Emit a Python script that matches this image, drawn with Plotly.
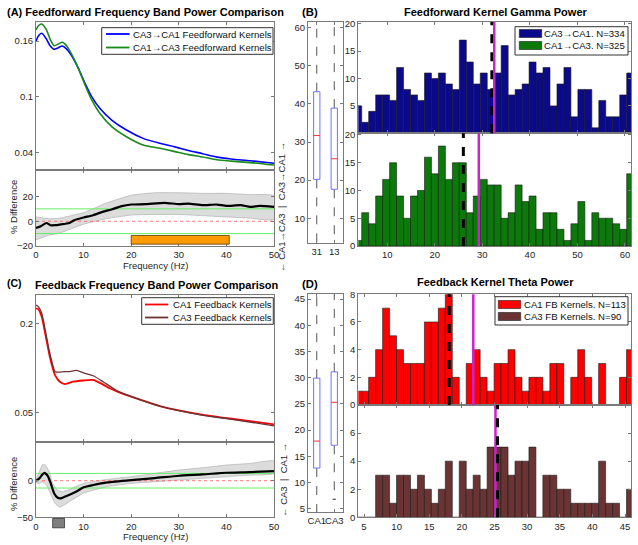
import plotly.graph_objects as go

W, H = 638, 545

# ---------------- DATA ----------------
# Panel A (top): power spectra
fA = [0, 0.5, 1.2, 2.2, 3, 3.8, 4.6, 5.5, 6.4, 7.5, 8.9, 10.3, 11.7, 13.4, 15.9, 19, 22.5, 26, 29, 32, 35, 38, 41, 45, 50]
ca3_ca1_ff = [0.160, 0.1655, 0.1683, 0.162, 0.1545, 0.151, 0.1525, 0.1546, 0.1515, 0.144, 0.1305, 0.1144, 0.100, 0.0874,
              0.0748, 0.064, 0.055, 0.0497, 0.0461, 0.0420, 0.0385, 0.0348, 0.0328, 0.0309, 0.0281]
ca1_ca3_ff = [0.1719, 0.1765, 0.1783, 0.172, 0.1615, 0.155, 0.1565, 0.1586, 0.155, 0.1455, 0.1305, 0.1126, 0.0964, 0.082,
              0.0676, 0.0568, 0.0479, 0.0443, 0.041, 0.0375, 0.0350, 0.0320, 0.0305, 0.0289, 0.0263]
A_names = ["CA3→CA1 Feedforward Kernels", "CA1→CA3 Feedforward Kernels"]

# Panel A (bottom): % difference
fA_diff = [0, 1, 2.2, 3, 4, 5, 7, 8, 10, 12, 14, 16, 18, 20, 23, 27, 30, 32, 35, 38, 40, 43, 45, 47, 50]
A_diff_mean = [-5.4, -4, -1.4, -3.2, -3.2, -2.7, -1.4, 0.8, 3, 4.9, 7.6, 9.7, 12.2, 13.5, 13.8, 14.9, 13.8, 14.3, 13,
               13.5, 12.4, 13, 11.6, 12.4, 11.6]
fA_band = [0, 3, 5, 10, 15, 20, 25, 30, 35, 40, 45, 50]
A_band_upper = [3.5, 2, 2.5, 7, 15, 21, 23, 23, 22.5, 22.5, 21.5, 20.5]
A_band_lower = [-15, -11, -9.5, -2.4, 2.2, 5, 5.5, 5.5, 4.5, 3.5, 2.5, 1.5]
A_sig_band = [20, 40.6]
thresholds = [-10, 10]

# Panel B: gamma power histograms
B_bin_start, B_bin_width = 3.886, 1.467
B_counts_ca3_ca1 = [5, 2, 4, 7, 7, 6, 12, 8, 7, 6, 11, 10, 11, 9, 8, 17, 13, 9, 11, 8,
                    11, 16, 7, 8, 9, 13, 11, 12, 5, 9, 12, 3, 8, 8, 1, 6, 3, 3, 7, 11]
B_counts_ca1_ca3 = [1, 6, 4, 9, 12, 15, 9, 5, 9, 10, 16, 13, 18, 12, 15, 15, 6, 9, 12, 11,
                    11, 5, 6, 11, 8, 9, 3, 6, 6, 3, 1, 4, 8, 1, 6, 5, 5, 4, 3, 13]
B_names = ["CA3→CA1. N=334", "CA1→CA3. N=325"]
B_median = [32.0, 26.0]
B_mean = [32.5, 29.25]
B_box_labels = ["31", "13"]
B_q1 = [20.2, 17.6]
B_med = [31.7, 25.6]
B_q3 = [43.2, 38.9]
B_lo = [3.1, 3.1]
B_hi = [62.0, 62.0]

# Panel C: feedback spectra
fC_ca1 = [0, 0.5, 1.2, 2.2, 2.9, 4, 5, 6.1, 7.8, 9.9, 12, 13.4, 15.5, 17.6, 21.1, 26, 34.5, 41.5, 50]
ca1_fb = [0.225, 0.2235, 0.211, 0.172, 0.144, 0.113, 0.102, 0.098, 0.102, 0.104, 0.105, 0.100, 0.091, 0.0836, 0.074,
          0.0612, 0.0473, 0.0394, 0.0305]
fC_ca3 = [0, 0.5, 1.2, 2.2, 2.9, 4, 4.4, 6.1, 7.1, 8.5, 10.3, 12, 14.1, 16.9, 21.1, 26, 34.5, 41.5, 50]
ca3_fb = [0.2308, 0.228, 0.217, 0.178, 0.150, 0.119, 0.118, 0.119, 0.119, 0.121, 0.116, 0.112, 0.102, 0.0875, 0.074,
          0.061, 0.0465, 0.0385, 0.028]
C_names = ["CA1 Feedback Kernels", "CA3 Feedback Kernels"]

fC_diff = [0, 0.7, 1.4, 1.8, 2.5, 3.1, 3.8, 4.5, 5.2, 6, 7.3, 8.7, 10, 12, 15, 20, 25, 30, 35, 40, 45, 50]
C_diff_mean = [0, 3.2, 9, 10.9, 6.4, -3.6, -17, -23, -24, -22, -18.6, -14, -9, -5.9, -2.3, 0.9, 3.6, 6.8, 8.6, 10.9,
               11.8, 13.2]
fC_up = [0, 0.7, 1.4, 2, 2.8, 3.5, 4.5, 5.5, 7, 10, 15, 20, 25, 30, 35, 40, 45, 50]
C_band_upper = [2.3, 12, 22, 21, 12, -3.6, -12.7, -15, -12, -3.6, 1.8, 5.5, 10, 14.5, 17.7, 21.4, 23.6, 26.8]
fC_lo = [0, 0.7, 1.4, 2.2, 3, 4, 5, 6, 7, 10, 15, 20, 25, 30, 35, 40, 45, 50]
C_band_lower = [-2.7, -3.6, -1.4, -6, -17, -31, -36, -33, -28.6, -17, -8, -3.6, -1.4, 0.9, 3.2, 5.5, 7.7, 10]
C_sig_band = [3.5, 6.0]

# Panel D: theta power histograms
D_bin_start, D_bin_width = 4.113, 1.068
D_counts_ca1 = [1, 1, 2, 4, 7, 5, 4, 3, 3, 3, 6, 6, 7, 8, 2, 0, 3, 4, 2, 1,
                3, 3, 4, 2, 1, 2, 2, 1, 3, 3, 0, 2, 4, 2, 0, 3, 0, 0, 2, 4]
D_counts_ca3 = [0, 0, 0, 3, 3, 1, 3, 3, 2, 3, 2, 1, 2, 4, 0, 4, 2, 3, 2, 5,
                5, 5, 3, 4, 4, 5, 0, 3, 3, 2, 2, 1, 1, 1, 1, 4, 1, 1, 0, 2]
D_names = ["CA1 FB Kernels. N=113", "CA3 FB Kernels. N=90"]
D_median = [18.06, 25.46]
D_mean = [21.75, 25.15]
D_box_labels = ["CA1", "CA3"]
D_q1 = [12.75, 17.1]
D_med = [17.9, 25.3]
D_q3 = [29.9, 31.1]
D_lo = [4.0, 6.8]
D_hi = [46.5, 46.5]

# ---------------- STYLE ----------------
FONT = "Liberation Sans, Arial, Helvetica, sans-serif"
AXC = "#7a7a7a"
TXT = "#262626"
BLUE, GREEN = "#0000ff", "#1a8a1a"
NAVY, DGREEN = "#0a0a8a", "#0b7a0b"
RED, BROWN = "#ff0000", "#6a3434"
MAGENTA = "#cc22cc"


def px(x):
    return x / W


def py(y):
    return 1 - y / H


fig = go.Figure()
layout = dict(template="none", width=W, height=H, margin=dict(l=0, r=0, t=0, b=0, autoexpand=False),
              plot_bgcolor="white", paper_bgcolor="white",
              font=dict(family=FONT, size=10, color=TXT), showlegend=False, shapes=[], annotations=[])

# axis boxes in pixels: (x0, x1, y0top, y1bottom)
boxes = {
    1: (36, 274, 22, 170),
    2: (36, 274, 170, 246),
    3: (308, 343, 22, 243),
    4: (358.3, 631, 22, 133.3),
    5: (358.3, 631, 133.3, 246),
    6: (36, 274, 295, 442.3),
    7: (36, 274, 442.3, 517.3),
    8: (308, 343, 294.3, 512),
    9: (358.3, 631, 294.3, 405),
    10: (358.3, 631, 405, 517.3),
}


def ax_common():
    return dict(showline=True, linecolor=AXC, linewidth=1, mirror="ticks", ticks="inside", ticklen=3,
                tickcolor=AXC, showgrid=False, zeroline=False, automargin=False, tickangle=0,
                tickfont=dict(size=9.5, color=TXT, family=FONT))


for i, (x0, x1, y0, y1) in boxes.items():
    s = "" if i == 1 else str(i)
    xa = ax_common()
    ya = ax_common()
    xa.update(domain=[px(x0), px(x1)], anchor="y" + s)
    ya.update(domain=[py(y1), py(y0)], anchor="x" + s)
    layout["xaxis" + s] = xa
    layout["yaxis" + s] = ya

# ranges / ticks
freq_ticks = [0, 10, 20, 30, 40, 50]
layout["xaxis"].update(range=[0, 50], tickvals=freq_ticks, showticklabels=False)
layout["yaxis"].update(range=[0.0209, 0.1805], tickvals=[0.04, 0.1, 0.16], ticktext=["0.04", "0.1", "0.16"])
layout["xaxis2"].update(range=[0, 50], tickvals=freq_ticks)
layout["yaxis2"].update(range=[-20, 41.4], tickvals=[-20, 0, 20])
layout["xaxis3"].update(range=[0.5, 2.5], tickvals=[1, 2], ticktext=B_box_labels)
layout["yaxis3"].update(range=[3.5, 61.5], tickvals=[10, 20, 30, 40, 50, 60])
layout["xaxis4"].update(range=[3.9, 61.27], tickvals=[10, 20, 30, 40, 50, 60], showticklabels=False)
layout["yaxis4"].update(range=[0, 20.3], tickvals=[5, 10, 15, 20])
layout["xaxis5"].update(range=[3.9, 61.27], tickvals=[10, 20, 30, 40, 50, 60])
layout["yaxis5"].update(range=[0, 20.3], tickvals=[0, 5, 10, 15, 20])
layout["xaxis6"].update(range=[0, 50], tickvals=freq_ticks, showticklabels=False)
layout["yaxis6"].update(range=[0.0003, 0.2475], tickvals=[0.05, 0.2], ticktext=["0.05", "0.2"])
layout["xaxis7"].update(range=[0, 50], tickvals=freq_ticks)
layout["yaxis7"].update(range=[-50, 52.5], tickvals=[-50, 0])
layout["xaxis8"].update(range=[0.5, 2.5], tickvals=[1, 2], ticktext=D_box_labels)
layout["yaxis8"].update(range=[4.37, 45.9], tickvals=[5, 10, 15, 20, 25, 30, 35, 40, 45])
layout["xaxis9"].update(range=[4.126, 45.92], tickvals=[5, 10, 15, 20, 25, 30, 35, 40, 45], showticklabels=False)
layout["yaxis9"].update(range=[0, 8], tickvals=[0, 2, 4, 6, 8])
layout["xaxis10"].update(range=[4.126, 45.92], tickvals=[5, 10, 15, 20, 25, 30, 35, 40, 45])
layout["yaxis10"].update(range=[0, 8], tickvals=[0, 2, 4, 6])


def ax(i):
    s = "" if i == 1 else str(i)
    return dict(xaxis="x" + s, yaxis="y" + s)


# ---- Panel A top
fig.add_trace(go.Scatter(x=fA, y=ca3_ca1_ff, mode="lines", line=dict(color=BLUE, width=1.6, shape="spline", smoothing=0.6),
                         name=A_names[0], **ax(1)))
fig.add_trace(go.Scatter(x=fA, y=ca1_ca3_ff, mode="lines", line=dict(color=GREEN, width=1.6, shape="spline", smoothing=0.6),
                         name=A_names[1], **ax(1)))


def diff_panel(i, f_up, up, f_lo, lo, f_m, m):
    bx = list(f_up) + list(f_lo)[::-1]
    by = list(up) + list(lo)[::-1]
    fig.add_trace(go.Scatter(x=bx, y=by, mode="lines", fill="toself", fillcolor="#dcdcdc",
                             line=dict(color="#b8b8b8", width=0.8, shape="spline", smoothing=0.5),
                             hoverinfo="skip", **ax(i)))
    for t in thresholds:
        fig.add_trace(go.Scatter(x=[0, 50], y=[t, t], mode="lines", line=dict(color="#66ee66", width=1), **ax(i)))
    fig.add_trace(go.Scatter(x=[0, 50], y=[0, 0], mode="lines", line=dict(color="#ff5555", width=0.8, dash="dot"), **ax(i)))
    fig.add_trace(go.Scatter(x=f_m, y=m, mode="lines", line=dict(color="black", width=2.2, shape="spline", smoothing=0.5),
                             **ax(i)))


diff_panel(2, fA_band, A_band_upper, fA_band, A_band_lower, fA_diff, A_diff_mean)
layout["shapes"].append(dict(type="rect", xref="x2", yref="y2", x0=A_sig_band[0], x1=A_sig_band[1], y0=-18.5, y1=-11.5,
                             fillcolor="#ff9a00", line=dict(color="#5a3a00", width=0.8)))

# ---- Panel C
fig.add_trace(go.Scatter(x=fC_ca1, y=ca1_fb, mode="lines", line=dict(color=RED, width=1.8, shape="spline", smoothing=0.6),
                         name=C_names[0], **ax(6)))
fig.add_trace(go.Scatter(x=fC_ca3, y=ca3_fb, mode="lines", line=dict(color=BROWN, width=1.3, shape="spline", smoothing=0.6),
                         name=C_names[1], **ax(6)))
diff_panel(7, fC_up, C_band_upper, fC_lo, C_band_lower, fC_diff, C_diff_mean)
layout["shapes"].append(dict(type="rect", xref="x7", yref="y7 domain", x0=C_sig_band[0], x1=C_sig_band[1], y0=-0.14,
                             y1=-0.015, fillcolor="#7f7f7f", line=dict(color="#333333", width=0.8)))


# ---- Histograms
def hist(i, start, width, counts, color, name):
    centers = [start + width * k for k in range(len(counts))]
    fig.add_trace(go.Bar(x=centers, y=counts, width=width, marker=dict(color=color, line=dict(color="#1a1a1a", width=0.6)),
                         name=name, **ax(i)))


hist(4, B_bin_start, B_bin_width, B_counts_ca3_ca1, NAVY, B_names[0])
hist(5, B_bin_start, B_bin_width, B_counts_ca1_ca3, DGREEN, B_names[1])
hist(9, D_bin_start, D_bin_width, D_counts_ca1, RED, D_names[0])
hist(10, D_bin_start, D_bin_width, D_counts_ca3, BROWN, D_names[1])


def vlines(i, med, mean, black_on_top):
    s = "" if i == 1 else str(i)
    blk = dict(type="line", xref="x" + s, yref="y" + s + " domain", x0=med, x1=med, y0=0, y1=1,
               line=dict(color="black", width=3, dash="dash"))
    mag = dict(type="line", xref="x" + s, yref="y" + s + " domain", x0=mean, x1=mean, y0=0, y1=1,
               line=dict(color=MAGENTA, width=2.5))
    if black_on_top:
        layout["shapes"].extend([mag, blk])
    else:
        layout["shapes"].extend([blk, mag])


vlines(4, B_median[0], B_mean[0], False)
vlines(5, B_median[1], B_mean[1], False)
vlines(9, D_median[0], D_mean[0], False)
vlines(10, D_median[1], D_mean[1], True)


# ---- Boxplots
def boxes_draw(i, q1, med, q3, lo, hi):
    hw, cw = 0.18, 0.09
    for k in range(len(q1)):
        p = k + 1
        fig.add_trace(go.Scatter(x=[p, p, None, p, p], y=[q3[k], hi[k], None, q1[k], lo[k]], mode="lines",
                                 line=dict(color="#555555", width=1, dash="dash"), **ax(i)))
        fig.add_trace(go.Scatter(x=[p - cw, p + cw, None, p - cw, p + cw], y=[hi[k], hi[k], None, lo[k], lo[k]],
                                 mode="lines", line=dict(color="#222222", width=1), **ax(i)))
        fig.add_trace(go.Scatter(x=[p - hw, p + hw, p + hw, p - hw, p - hw], y=[q1[k], q1[k], q3[k], q3[k], q1[k]],
                                 mode="lines", fill="toself", fillcolor="white", line=dict(color="#7070ff", width=1),
                                 **ax(i)))
        fig.add_trace(go.Scatter(x=[p - hw, p + hw], y=[med[k], med[k]], mode="lines",
                                 line=dict(color="#ff3030", width=1), **ax(i)))


boxes_draw(3, B_q1, B_med, B_q3, B_lo, B_hi)
boxes_draw(8, D_q1, D_med, D_q3, D_lo, D_hi)


# ---- Texts
def note(text, x, y, size=10, bold=False, xanchor="center", angle=0, color=TXT):
    t = "<b>" + text + "</b>" if bold else text
    layout["annotations"].append(dict(text=t, x=px(x), y=py(y), xref="paper", yref="paper", showarrow=False,
                                      xanchor=xanchor, yanchor="middle", textangle=angle, borderpad=0,
                                      font=dict(size=size, family=FONT, color=color)))


# ---- MATLAB-style legends (box, samples, labels)
def legend_box(x0, x1, y0, y1, names, colors, kind, sx0, sx1, ys, tx, patch_h=8):
    layout["shapes"].append(dict(type="rect", xref="paper", yref="paper", x0=px(x0), x1=px(x1), y0=py(y1), y1=py(y0),
                                 fillcolor="white", line=dict(color="#333333", width=1), layer="above"))
    for name, col, yy in zip(names, colors, ys):
        if kind == "line":
            layout["shapes"].append(dict(type="line", xref="paper", yref="paper", x0=px(sx0), x1=px(sx1), y0=py(yy),
                                         y1=py(yy), line=dict(color=col, width=1.8), layer="above"))
        else:
            layout["shapes"].append(dict(type="rect", xref="paper", yref="paper", x0=px(sx0), x1=px(sx1),
                                         y0=py(yy + patch_h / 2), y1=py(yy - patch_h / 2), fillcolor=col,
                                         line=dict(color="#1a1a1a", width=0.6), layer="above"))
        note(name, tx, yy, 9.6, xanchor="left", color="#111111")


legend_box(101.7, 273, 27.7, 54.3, A_names, [BLUE, GREEN], "line", 106, 129.5, [34, 47.5], 131.5)
legend_box(515, 628, 26.7, 55, B_names, [NAVY, DGREEN], "patch", 519.3, 541.7, [33.5, 45.5], 543)
legend_box(141.7, 273.3, 297.7, 324.3, C_names, [RED, BROWN], "line", 145, 168.3, [304.5, 317.5], 171.5)
legend_box(495, 628, 296.7, 325, D_names, [RED, BROWN], "patch", 498.3, 520.7, [304.5, 316.5], 522.5)

note("(A) Feedforward Frequency Band Power Comparison", 6, 12, 11, True, "left", color="black")
note("(B)", 301, 12, 11.3, True, "left", color="black")
note("Feedforward Kernel Gamma Power", 495, 12, 11, True, "center", color="black")
note("(C)", 6, 283, 10.5, True, "left", color="black")
note("Feedback Frequency Band Power Comparison", 34, 285, 11, True, "left", color="black")
note("(D)", 301, 284, 11.3, True, "left", color="black")
note("Feedback Kernel Theta Power", 495, 282, 11, True, "center", color="black")

note("% Difference", 13, 207, 9.5, angle=-90)
note("% Difference", 13, 484, 9.5, angle=-90)
note("Frequency (Hz)", 155.7, 265, 9.5)
note("Frequency (Hz)", 155.7, 536.5, 9.5)
note("← CA1→CA3  |  CA3→CA1 →", 281, 207, 9.5, angle=-90)
note("← CA3  |  CA1 →", 283, 480, 9.5, angle=-90)

fig.update_layout(**layout)
fig.write_html("out.html", config={"displayModeBar": False},
               post_script="document.body.style.margin='0px';document.body.style.overflow='hidden';")
